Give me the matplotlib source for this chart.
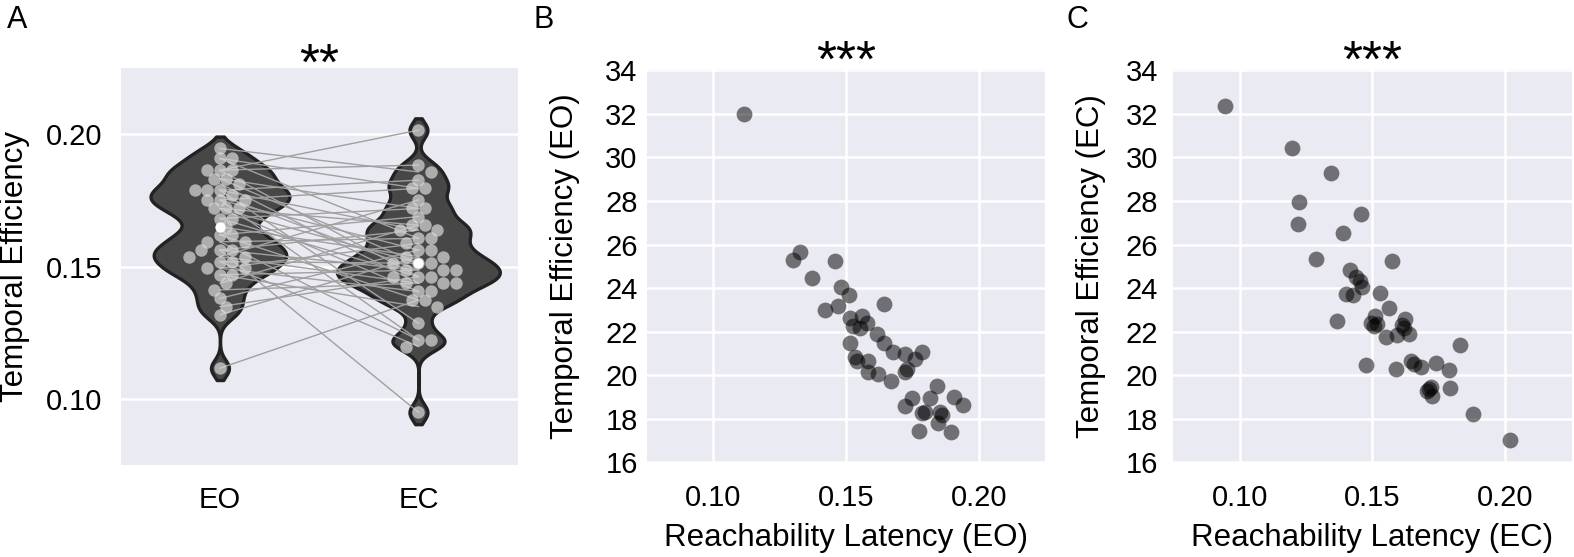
import numpy as np
import matplotlib
matplotlib.use("Agg")
import matplotlib.pyplot as plt

plt.rcParams['font.family'] = ['Liberation Sans', 'DejaVu Sans']

# panel A : one value per subject, EO and EC given in the same subject order
a_eo = [0.1947, 0.1909, 0.1909, 0.1865, 0.1865, 0.1865, 0.1833, 0.1833, 0.1814, 0.1789,
        0.1789, 0.1789, 0.1770, 0.1752, 0.1752, 0.1752, 0.1720, 0.1720, 0.1720, 0.1682,
        0.1682, 0.1651, 0.1620, 0.1620, 0.1594, 0.1594, 0.1563, 0.1563, 0.1563, 0.1538,
        0.1538, 0.1519, 0.1519, 0.1494, 0.1494, 0.1469, 0.1469, 0.1437, 0.1412, 0.1380,
        0.1349, 0.1318, 0.1116]
a_ec = [0.1858, 0.1796, 0.1607, 0.2016, 0.1884, 0.1462, 0.1720, 0.1513, 0.1437, 0.1827,
        0.1638, 0.1286, 0.1487, 0.1796, 0.1563, 0.1223, 0.1657, 0.1406, 0.1513, 0.1720,
        0.1462, 0.1538, 0.1689, 0.1374, 0.1607, 0.1223, 0.0949, 0.1487, 0.1638, 0.1437,
        0.1752, 0.1513, 0.1198, 0.1588, 0.1406, 0.1487, 0.1349, 0.1657, 0.1437, 0.1563,
        0.1462, 0.1538, 0.1374]

# panel B : eyes open
eo_lat = [0.1117, 0.1327, 0.1302, 0.1459, 0.1371, 0.148, 0.151, 0.1421, 0.1471, 0.1643,
          0.1515, 0.1559, 0.1528, 0.1553, 0.1578, 0.1616, 0.1515, 0.1644, 0.1678, 0.1722,
          0.1785, 0.176, 0.154, 0.1584, 0.1584, 0.1622, 0.1668, 0.1722, 0.1729, 0.1842,
          0.1747, 0.1722, 0.1817, 0.1908, 0.1942, 0.1785, 0.1798, 0.1854, 0.186, 0.1848,
          0.1775, 0.1896, 0.1535]
eo_te = [32.0, 25.66, 25.28, 25.25, 24.45, 24.04, 23.69, 22.98, 23.16, 23.27,
         22.63, 22.74, 22.26, 22.18, 22.41, 21.88, 21.47, 21.47, 21.05, 20.97,
         21.05, 20.75, 20.67, 20.63, 20.14, 20.07, 19.72, 20.14, 20.29, 19.51,
         18.93, 18.56, 18.96, 19.0, 18.63, 18.25, 18.33, 18.33, 18.18, 17.8,
         17.45, 17.38, 20.85]

# panel C : eyes closed
ec_lat = [0.0943, 0.1198, 0.1343, 0.1225, 0.122, 0.1456, 0.139, 0.1286, 0.1572, 0.1416,
          0.1453, 0.1462, 0.1399, 0.1428, 0.1529, 0.1563, 0.1368, 0.1494, 0.1509, 0.1519,
          0.1505, 0.1622, 0.162, 0.155, 0.1594, 0.1638, 0.1831, 0.1475, 0.1588, 0.1647,
          0.1657, 0.1683, 0.1739, 0.179, 0.1793, 0.172, 0.1705, 0.1723, 0.188, 0.2019,
          0.1437, 0.1612, 0.1712]
ec_te = [32.35, 30.44, 29.27, 27.95, 26.94, 27.39, 26.52, 25.32, 25.25, 24.82,
         24.34, 24.07, 23.74, 23.69, 23.77, 23.09, 22.48, 22.41, 22.71, 22.33,
         22.25, 22.56, 22.18, 21.73, 21.83, 21.88, 21.38, 20.47, 20.26, 20.67,
         20.52, 20.37, 20.56, 20.22, 19.42, 19.46, 19.27, 19.05, 18.21, 17.02,
         24.5, 22.3, 19.35]

conditions = ['EO', 'EC']
stars = ['**', '***', '***']

bg = '#EAEAF2'
tick_fs = 21
label_fs = 22.5

fig = plt.figure(figsize=(15.74, 5.57), dpi=100)
axA = fig.add_axes([0.0767, 0.1652, 0.2522, 0.7122])
axB = fig.add_axes([0.4109, 0.1682, 0.2531, 0.7074])
axC = fig.add_axes([0.7454, 0.1682, 0.2531, 0.7074])

for ax in (axA, axB, axC):
    ax.set_facecolor(bg)
    for s in ax.spines.values():
        s.set_visible(False)
    ax.set_axisbelow(True)

axA.set_xlim(-0.5, 1.5)
axA.set_ylim(0.075, 0.225)


def swarm(vals, ax, dot_px, squeeze):
    # loose beeswarm: dots may overlap a little in the vertical direction
    bb = ax.get_window_extent()
    x0, x1 = ax.get_xlim()
    y0, y1 = ax.get_ylim()
    sx = bb.width / (x1 - x0)
    sy = bb.height / (y1 - y0)
    vals = np.asarray(vals)
    offs = np.zeros(len(vals))
    placed = []
    steps = [0]
    for k in range(1, 20):
        steps += [k, -k]
    for i in np.argsort(vals)[::-1]:
        yp = vals[i] * sy
        for k in steps:
            xp = k * dot_px * 0.5
            ok = all((xp - px) ** 2 + (squeeze * (yp - py)) ** 2 >= dot_px ** 2 for px, py in placed)
            if ok:
                break
        placed.append((xp, yp))
        offs[i] = xp / sx
    return offs


# ---- panel A : violins + paired lines + swarm
bw = 0.0032
dens = []
for g in (np.array(a_eo), np.array(a_ec)):
    grid = np.linspace(g.min() - 1.4 * bw, g.max() + 1.4 * bw, 400)
    d = np.exp(-0.5 * ((grid[None, :] - g[:, None]) / bw) ** 2).sum(0)
    d = d / (len(g) * bw * np.sqrt(2 * np.pi))
    dens.append((grid, d))
dmax = max(d.max() for _, d in dens)
for i, (grid, d) in enumerate(dens):
    w = d / dmax * 0.41
    axA.fill_betweenx(grid, i - w, i + w, facecolor='#474747', edgecolor='#222222',
                      linewidth=2.4, zorder=1)

for y0, y1 in zip(a_eo, a_ec):
    axA.plot([0, 1], [y0, y1], color='#a0a0a0', lw=1.0, zorder=2)

for i, vals in enumerate((a_eo, a_ec)):
    xo = swarm(vals, axA, 12.5, 1.45)
    axA.scatter(i + xo, vals, s=80, color='#dadada', alpha=0.7, linewidth=0, zorder=3)
axA.scatter([0, 1], [np.median(a_eo), np.median(a_ec)], s=55, color='white',
            zorder=5, linewidth=0)

axA.set_yticks([0.10, 0.15, 0.20])
axA.set_yticklabels(['0.10', '0.15', '0.20'])
axA.set_xticks([0, 1])
axA.set_xticklabels(conditions)
axA.grid(axis='y', color='white', lw=1.8)
axA.grid(axis='x', visible=False)
axA.tick_params(axis='both', length=0, labelsize=tick_fs)
axA.tick_params(axis='y', pad=13)
axA.tick_params(axis='x', pad=15)
axA.set_ylabel('Temporal Efficiency', fontsize=label_fs)
axA.yaxis.set_label_coords(-0.228, 0.5)

# ---- panels B, C : scatter
for ax, x, y, c, pad in ((axB, eo_lat, eo_te, 'EO', 6.5), (axC, ec_lat, ec_te, 'EC', 11)):
    ax.scatter(x, y, s=130, color='black', alpha=0.52, linewidth=0, zorder=3)
    ax.set_xlim(0.075, 0.225)
    ax.set_ylim(15.95, 34.05)
    ax.set_xticks([0.10, 0.15, 0.20])
    ax.set_xticklabels(['0.10', '0.15', '0.20'])
    ax.set_yticks(range(16, 35, 2))
    ax.grid(True, color='white', lw=1.8)
    ax.tick_params(axis='both', length=0, labelsize=tick_fs)
    ax.tick_params(axis='y', pad=pad)
    ax.tick_params(axis='x', pad=15)
    ax.set_xlabel('Reachability Latency (%s)' % c, fontsize=label_fs)
    ax.set_ylabel('Temporal Efficiency (%s)' % c, fontsize=label_fs)
    ax.yaxis.set_label_coords(-0.168, 0.5)
    ax.xaxis.set_label_coords(0.5, -0.152)

for ax, st, yb in ((axA, stars[0], 0.97), (axB, stars[1], 0.981), (axC, stars[2], 0.981)):
    ax.text(0.5, yb, st, transform=ax.transAxes, ha='center', va='baseline', fontsize=37)

for lab, xp in (('A', 7), ('B', 534), ('C', 1066)):
    fig.text(xp / 1574, 1 - 28 / 557, lab, fontsize=22, ha='left', va='baseline')

fig.savefig('out.png', dpi=100)
